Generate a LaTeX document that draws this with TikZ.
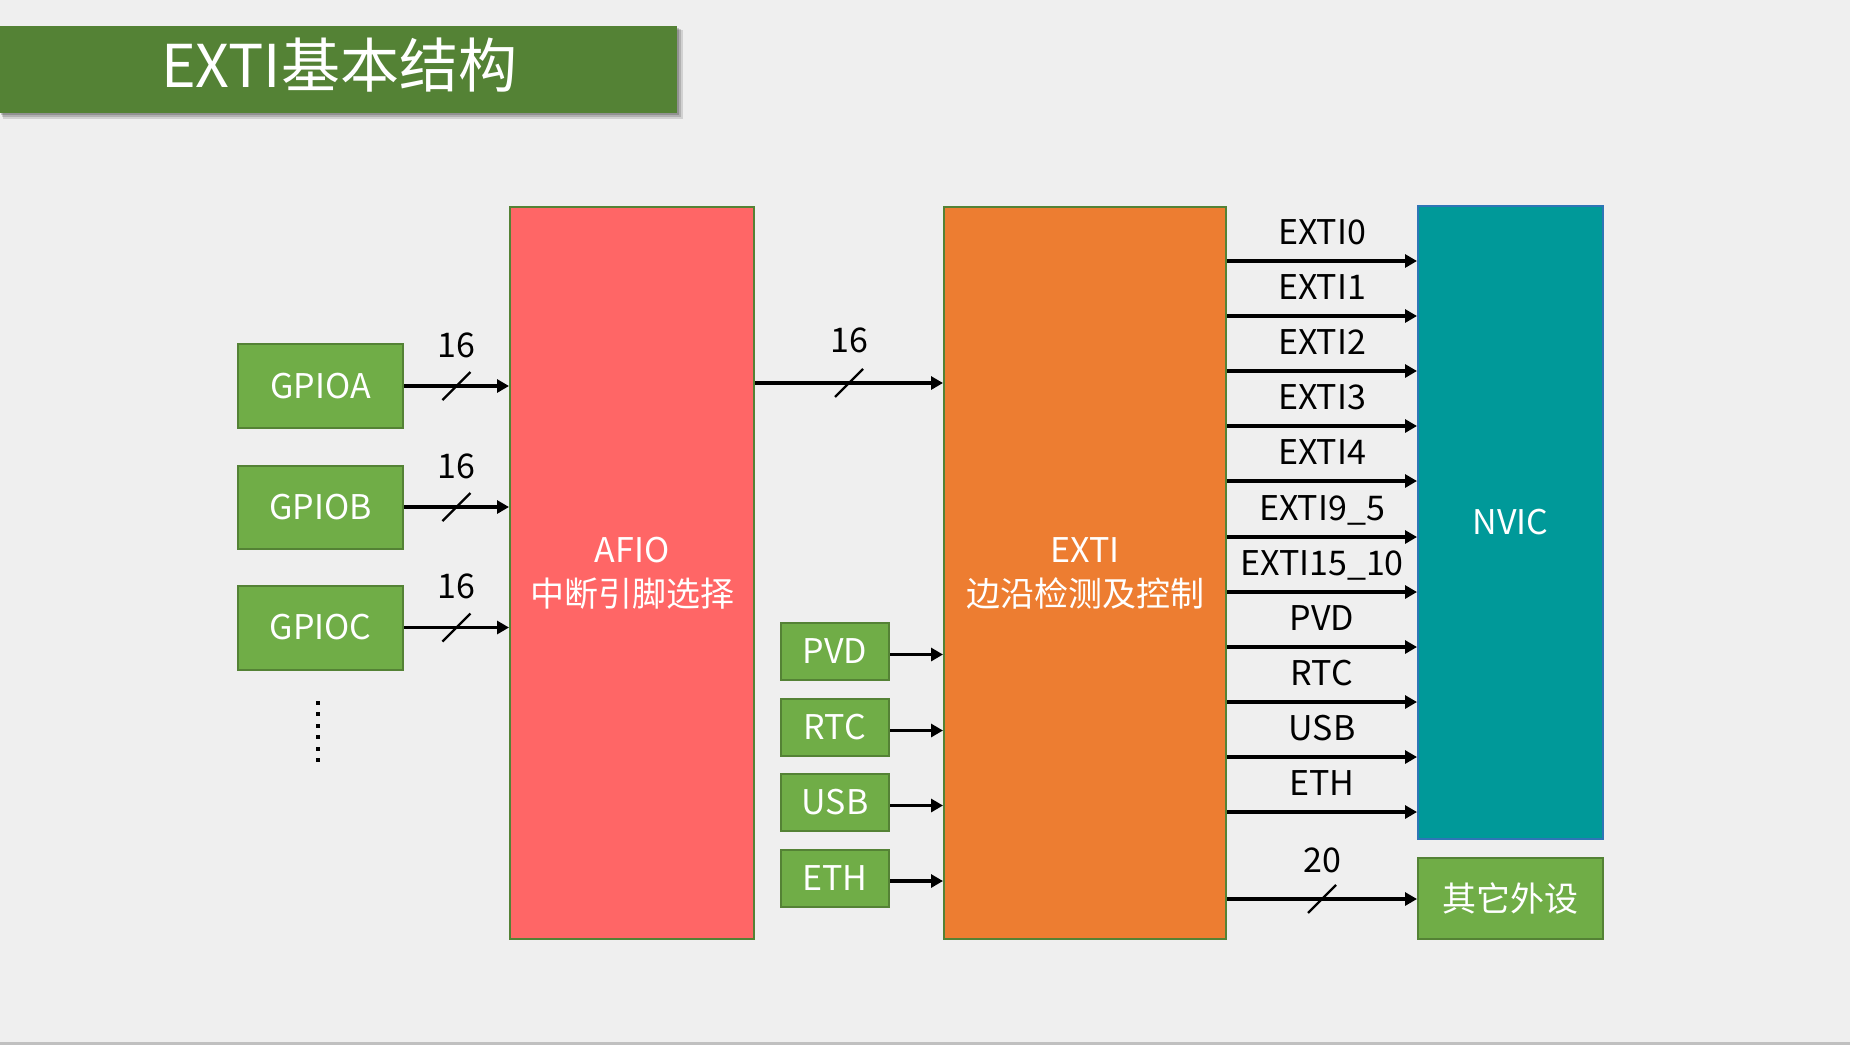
\documentclass[tikz,border=0pt]{standalone}
\usepackage{fontspec}
\setmainfont{Noto Sans CJK SC}
\usetikzlibrary{arrows.meta}
\definecolor{bgc}{HTML}{EFEFEF}
\definecolor{titlegreen}{HTML}{548235}
\definecolor{dkgreen}{HTML}{548235}
\definecolor{ltgreen}{HTML}{70AD47}
\definecolor{afiored}{HTML}{FF6666}
\definecolor{extiorange}{HTML}{ED7D31}
\definecolor{nvicteal}{HTML}{009999}
\definecolor{nvicblue}{HTML}{2E75B6}
\definecolor{stripgray}{HTML}{C0C0C0}
\begin{document}
\begin{tikzpicture}[x=0.5pt,y=-0.5pt,
  box/.style={draw=dkgreen, line width=1pt, inner sep=0pt, text=white,
    font=\fontsize{17pt}{22pt}\selectfont, align=center},
  gbox/.style={box, fill=ltgreen},
  boxtext/.style={inner sep=0pt, text=white, font=\fontsize{17pt}{22pt}\selectfont, align=center},
  arr/.style={line width=1.9pt, -{Triangle[length=6pt,width=6.5pt]}},
  lbl/.style={anchor=base, font=\fontsize{17pt}{20pt}\selectfont, inner sep=0pt, text=black},
  slash/.style={line width=1.2pt}]
\useasboundingbox (0,0) rectangle (1850,1045);
\fill[bgc] (0,0) rectangle (1850,1045);
\fill[stripgray] (0,1042) rectangle (1850,1045);

% title bar with shadow
\fill[black,opacity=0.12] (3,30) rectangle (683,119);
\fill[black,opacity=0.15] (2,29) rectangle (681,117);
\fill[black,opacity=0.18] (1,28) rectangle (679,115);
\node[fill=titlegreen, minimum width=338.5pt, minimum height=43.5pt, inner sep=0pt] (bar) at (338.5,69.5) {};
\node[anchor=base, text=white, font=\fontsize{29.5pt}{34pt}\selectfont, inner sep=0pt] (title) at (339,87) {EXTI基本结构};

% GPIO boxes
\node[gbox, minimum width=82.5pt, minimum height=42pt] (gpioa) at (320.5,386) {GPIOA};
\node[gbox, minimum width=82.5pt, minimum height=41.5pt] (gpiob) at (320.5,507) {GPIOB};
\node[gbox, minimum width=82.5pt, minimum height=42pt] (gpioc) at (320.5,627.5) {GPIOC};
\foreach \k in {0,...,5} \fill (316,{701+\k*11.4}) rectangle ++(4,4);

% big blocks
\node[box, fill=afiored, minimum width=122pt, minimum height=366pt] (afio) at (632,573) {};
\node[boxtext] (afiot) at (632,573) {AFIO\\中断引脚选择};
\node[box, fill=extiorange, minimum width=141pt, minimum height=366pt] (exti) at (1085,573) {};
\node[boxtext] (extit) at (1085,573) {EXTI\\边沿检测及控制};
\node[box, draw=nvicblue, fill=nvicteal, minimum width=92.5pt, minimum height=316.5pt] (nvic) at (1510.5,522.5) {NVIC};
\node[gbox, minimum width=92.5pt, minimum height=40.5pt] (other) at (1510.5,898.5) {其它外设};

% small source boxes
\node[gbox, minimum width=54pt, minimum height=28.5pt] (pvd) at (835,651.5) {PVD};
\node[gbox, minimum width=54pt, minimum height=28.5pt] (rtc) at (835,727.5) {RTC};
\node[gbox, minimum width=54pt, minimum height=28.5pt] (usb) at (835,802.5) {USB};
\node[gbox, minimum width=54pt, minimum height=28.5pt] (eth) at (835,878) {ETH};

% GPIO -> AFIO
\foreach \n/\m in {gpioa/ma, gpiob/mb, gpioc/mc}{
  \draw[arr] (\n.east) -- coordinate[midway] (\m) (\n.east -| afio.west);
  \node[lbl] (l\m) at ([yshift=14.5pt]\m) {16};
  \draw[slash] ([shift={(-14,14)}]\m) -- ([shift={(14,-14)}]\m);
}

% AFIO -> EXTI
\coordinate (ay) at (0,383);
\draw[arr] (afio.east |- ay) -- coordinate[midway] (md) (exti.west |- ay);
\node[lbl] (lmd) at ([yshift=15.5pt]md) {16};
\draw[slash] ([shift={(-14,14)}]md) -- ([shift={(14,-14)}]md);

% small boxes -> EXTI
\foreach \n in {pvd,rtc,usb,eth}{
  \draw[arr] ([yshift=-1.5pt]\n.east) -- ([yshift=-1.5pt]\n.east -| exti.west);
}

% EXTI -> NVIC
\foreach \y/\t [count=\i] in {261/EXTI0, 316/EXTI1, 371/EXTI2, 426/EXTI3, 481/EXTI4, 537/EXTI9\_5, 592/EXTI15\_10, 647/PVD, 702/RTC, 757/USB, 812/ETH}{
  \coordinate (ry\i) at (0,\y);
  \draw[arr] (exti.east |- ry\i) -- coordinate[midway] (rm\i) (nvic.west |- ry\i);
  \node[lbl] (rl\i) at ([yshift=8.5pt]rm\i) {\t};
}

% EXTI -> other peripherals
\coordinate (oy) at (0,899);
\draw[arr] (exti.east |- oy) -- coordinate[midway] (mo) (other.west |- oy);
\node[lbl] (lmo) at ([yshift=13.5pt]mo) {20};
\draw[slash] ([shift={(-14,14)}]mo) -- ([shift={(14,-14)}]mo);
\end{tikzpicture}
\end{document}
